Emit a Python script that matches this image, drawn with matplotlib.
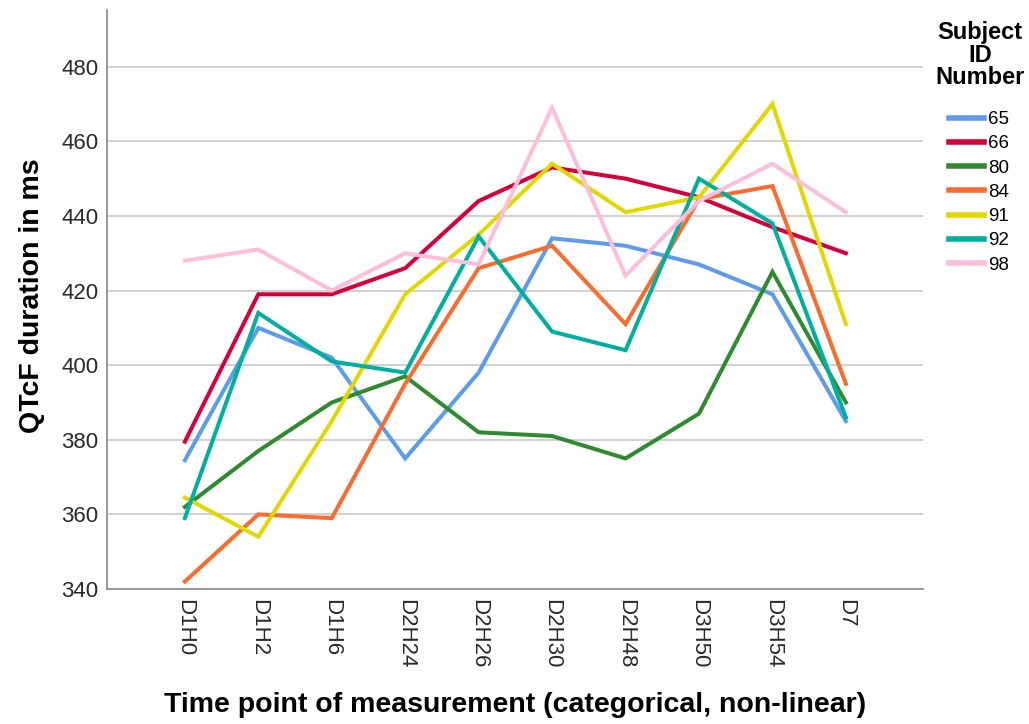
import matplotlib
matplotlib.use("Agg")
import matplotlib.pyplot as plt

plt.rcParams['font.family'] = ['Liberation Sans', 'DejaVu Sans']

categories = ["D1H0", "D1H2", "D1H6", "D2H24", "D2H26", "D2H30", "D2H48", "D3H50", "D3H54", "D7"]
subjects = ["65", "66", "80", "84", "91", "92", "98"]
s65 = [374.5, 410, 402, 375, 398, 434, 432, 427, 419, 385]
s66 = [379.5, 419, 419, 426, 444, 453, 450, 445, 437, 430]
s80 = [362, 377, 390, 397, 382, 381, 375, 387, 425, 390]
s84 = [342, 360, 359, 395, 426, 432, 411, 444.5, 448, 395]
s91 = [364.5, 354, 385, 419, 435, 454, 441, 445, 470, 411]
s92 = [359, 414, 401, 398, 434.5, 409, 404, 450, 438, 386]
s98 = [428, 431, 420, 430, 427, 469, 424, 444, 454, 441]
series = [s65, s66, s80, s84, s91, s92, s98]
colors = ["#5D9CEC", "#D7003B", "#2E8B2E", "#F96C2D", "#E2D800", "#00B09E", "#FFBDDC"]

fig = plt.figure(figsize=(10.29, 7.24), dpi=100)
ax = fig.add_axes([107/1029, 1-589/724, (923-107)/1029, (589-10)/724])

x = list(range(len(categories)))
for name, vals, c in zip(subjects, series, colors):
    ax.plot(x, vals, color=c, lw=2.9, label=name, solid_joinstyle='miter')

ax.set_xlim(-1.06, 10.05)
ax.set_ylim(340, 495.2)
ax.set_yticks(range(340, 481, 20))
ax.set_xticks(x)
ax.set_xticklabels(categories, rotation=270, fontsize=16, color="#2a2a2a")
ax.tick_params(axis='y', length=0, pad=6, labelsize=16, labelcolor="#2a2a2a")
ax.tick_params(axis='x', length=0, pad=7)
ax.grid(axis='y', color="#C8C8C8", lw=1.2)
ax.set_axisbelow(True)
for sp in ['top', 'right']:
    ax.spines[sp].set_visible(False)
for sp in ['left', 'bottom']:
    ax.spines[sp].set_color("#888888")
    ax.spines[sp].set_linewidth(1.2)

fig.text(32/1029, 1-296/724, "QTcF duration in ms", rotation=90, fontsize=20.5,
         fontweight='bold', ha='center', va='center')
fig.text(515/1029, 1-705/724, "Time point of measurement (categorical, non-linear)",
         fontsize=20.5, fontweight='bold', ha='center', va='center')

fig.text(980/1029, 1-55/724, "Subject\nID\nNumber", fontsize=17, fontweight='bold',
         ha='center', va='center', multialignment='center', linespacing=0.98)

leg = ax.legend(loc='upper left', bbox_to_anchor=(949/1029, 1-111/724),
                bbox_transform=fig.transFigure, frameon=False, fontsize=13.5,
                handlelength=1.85, handletextpad=0.25,
                labelspacing=0.38, borderaxespad=0, borderpad=0)
for h in leg.get_lines():
    h.set_linewidth(4)

fig.savefig("out.png", dpi=100)
